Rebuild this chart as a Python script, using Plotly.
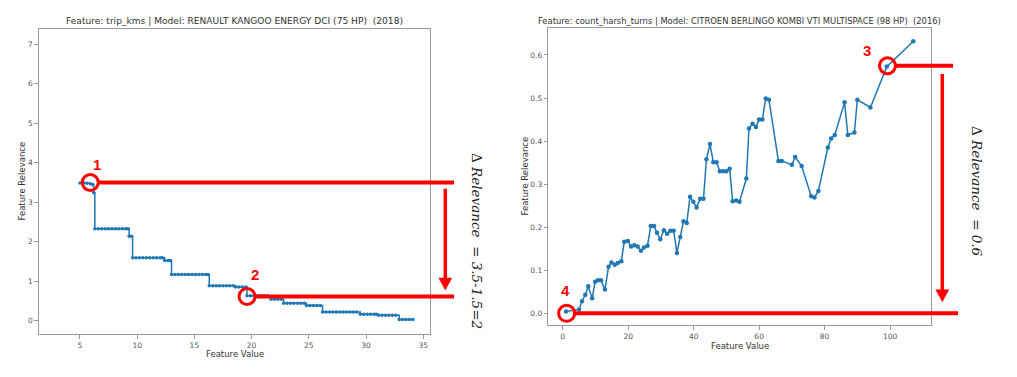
import plotly.graph_objects as go

# ---------------- data ----------------
trip_x = [5.0, 5.3, 5.6, 5.9, 6.1, 6.2,
          6.3, 6.6, 6.9, 7.2, 7.5, 7.8, 8.1, 8.4, 8.7, 9.0, 9.2,
          9.3, 9.5,
          9.6, 9.9, 10.2, 10.5, 10.8, 11.1, 11.4, 11.7, 12.0, 12.2,
          12.4, 12.7, 12.9,
          13.0, 13.3, 13.6, 13.9, 14.2, 14.5, 14.8, 15.1, 15.4, 15.7, 16.0, 16.2,
          16.3, 16.6, 16.9, 17.2, 17.5, 17.8, 18.1, 18.4,
          18.6, 18.9, 19.2, 19.5,
          19.6, 19.9, 20.2, 20.5, 20.8, 21.1, 21.4,
          21.7, 22.0, 22.3, 22.6,
          22.8, 23.1, 23.4, 23.7, 24.0, 24.3, 24.6,
          24.8, 25.1, 25.4, 25.7, 26.0,
          26.2, 26.5, 26.8, 27.1, 27.4, 27.7, 28.0, 28.3, 28.6, 28.9, 29.2,
          29.5, 29.8, 30.1, 30.4, 30.7, 30.9,
          31.1, 31.4, 31.7, 32.0, 32.3, 32.6,
          32.9, 33.2, 33.5, 33.8, 34.1]
trip_y = [3.49, 3.49, 3.48, 3.47, 3.45, 3.24,
          2.33, 2.33, 2.33, 2.33, 2.33, 2.33, 2.33, 2.33, 2.33, 2.33, 2.33,
          2.14, 2.14,
          1.59, 1.59, 1.59, 1.59, 1.59, 1.59, 1.59, 1.59, 1.59, 1.59,
          1.52, 1.52, 1.52,
          1.17, 1.17, 1.17, 1.17, 1.17, 1.17, 1.17, 1.17, 1.17, 1.17, 1.17, 1.17,
          0.88, 0.88, 0.88, 0.88, 0.88, 0.88, 0.88, 0.88,
          0.85, 0.85, 0.85, 0.85,
          0.63, 0.63, 0.63, 0.63, 0.63, 0.63, 0.63,
          0.54, 0.54, 0.54, 0.54,
          0.44, 0.44, 0.44, 0.44, 0.44, 0.44, 0.44,
          0.38, 0.38, 0.38, 0.38, 0.38,
          0.22, 0.22, 0.22, 0.22, 0.22, 0.22, 0.22, 0.22, 0.22, 0.22, 0.22,
          0.16, 0.16, 0.16, 0.16, 0.16, 0.16,
          0.135, 0.135, 0.135, 0.135, 0.135, 0.135,
          0.03, 0.03, 0.03, 0.03, 0.03]

turns_x = [1, 5, 5.9, 6.9, 7.8, 9, 9.9, 10.8, 11.7, 12.9, 14, 14.9, 15.9, 16.8, 17.9,
           18.8, 19.9, 20.9, 21.9, 22.9, 23.9, 24.8, 25.9, 26.9, 27.9, 28.8, 29.8,
           30.9, 31.9, 32.9, 33.9, 34.9, 35.9, 36.9, 37.9, 38.9, 39.9, 40.9, 42, 43,
           43.9, 45, 46, 47, 48, 49, 50, 51, 51.9, 53, 54, 56.1, 56.9, 58, 59, 60, 61,
           62, 63, 65.9, 66.9, 70, 71, 73, 75.9, 76.9, 78.1, 81, 82, 83.1, 86.1, 87.1,
           89.1, 90, 94, 99, 107.1]
turns_y = [0.004, 0.009, 0.028, 0.043, 0.063, 0.035, 0.073, 0.077, 0.077, 0.055, 0.108,
           0.118, 0.113, 0.117, 0.121, 0.166, 0.168, 0.155, 0.158, 0.155, 0.145, 0.153,
           0.157, 0.203, 0.203, 0.187, 0.172, 0.193, 0.185, 0.192, 0.192, 0.140, 0.177,
           0.214, 0.210, 0.271, 0.259, 0.246, 0.266, 0.266, 0.358, 0.393, 0.351, 0.351,
           0.330, 0.330, 0.330, 0.336, 0.260, 0.262, 0.259, 0.313, 0.429, 0.440, 0.433,
           0.450, 0.450, 0.499, 0.496, 0.354, 0.354, 0.345, 0.363, 0.342, 0.272, 0.269,
           0.284, 0.385, 0.406, 0.414, 0.490, 0.414, 0.420, 0.496, 0.478, 0.573, 0.632]

title_left = "Feature: trip_kms | Model: RENAULT KANGOO ENERGY DCI (75 HP)  (2018)"
title_right = "Feature: count_harsh_turns | Model: CITROEN BERLINGO KOMBI VTI MULTISPACE (98 HP)  (2016)"
x_label = "Feature Value"
y_label = "Feature Relevance"
left_marks = [("1", 5.9, 3.5), ("2", 19.6, 0.61)]
right_marks = [("3", 99.2, 0.575), ("4", 1.2, 0.0)]
left_delta = "Δ <i>Relevance</i>  <i>= 3.5-1.5=2</i>"
right_delta = "Δ <i>Relevance</i>  <i>= 0.6</i>"

# ---------------- layout geometry ----------------
# The page body has an 8px margin: work in window pixels and shift by OFF.
OFF = 8
W, H = 1001, 361


def fx(px):
    return (px - OFF) / W


def fy(py):
    return 1 - (py - OFF) / H


L_dom_x = [fx(39), fx(430)]
L_dom_y = [fy(334), fy(29)]
R_dom_x = [fx(548.3), fx(931)]
R_dom_y = [fy(325.3), fy(27.7)]
L_rx = [1.42, 35.59]
L_ry = [-0.34, 7.39]
R_rx = [-4.4, 112.5]
R_ry = [-0.0279, 0.6634]

BLUE = "#1f77b4"
RED = "#ff0000"
AX = "#9a9a9a"


def to_px(xv, yv, dom_x, dom_y, rx, ry):
    px_x = (dom_x[0] + (xv - rx[0]) / (rx[1] - rx[0]) * (dom_x[1] - dom_x[0])) * W + OFF
    px_y = (1 - (dom_y[0] + (yv - ry[0]) / (ry[1] - ry[0]) * (dom_y[1] - dom_y[0]))) * H + OFF
    return px_x, px_y


fig = go.Figure()
fig.add_trace(go.Scatter(x=trip_x, y=trip_y, mode="lines+markers",
                         line=dict(color=BLUE, width=1.5, shape="hv"),
                         marker=dict(color=BLUE, size=3.5),
                         xaxis="x", yaxis="y", showlegend=False))
fig.add_trace(go.Scatter(x=turns_x, y=turns_y, mode="lines+markers",
                         line=dict(color=BLUE, width=1.5),
                         marker=dict(color=BLUE, size=4.5),
                         xaxis="x2", yaxis="y2", showlegend=False))

axcommon = dict(showline=True, mirror=True, linecolor=AX, linewidth=1.2,
                ticks="outside", ticklen=3.5, tickcolor=AX, tickwidth=1,
                showgrid=False, zeroline=False,
                tickfont=dict(family="DejaVu Sans", size=7.5, color="#555555"))

fig.update_layout(
    width=W, height=H, margin=dict(l=0, r=0, t=0, b=0),
    paper_bgcolor="white", plot_bgcolor="white",
    xaxis=dict(domain=L_dom_x, range=L_rx, anchor="y", tickvals=[5, 10, 15, 20, 25, 30, 35], **axcommon),
    yaxis=dict(domain=L_dom_y, range=L_ry, anchor="x", tickvals=[0, 1, 2, 3, 4, 5, 6, 7], **axcommon),
    xaxis2=dict(domain=R_dom_x, range=R_rx, anchor="y2", tickvals=[0, 20, 40, 60, 80, 100], **axcommon),
    yaxis2=dict(domain=R_dom_y, range=R_ry, anchor="x2", tickvals=[0, 0.1, 0.2, 0.3, 0.4, 0.5, 0.6],
                tickformat=".1f", **axcommon),
)

ann = []
shapes = []

# titles and axis labels
for dom_x, title, tsize, lab_y in [(L_dom_x, title_left, 9.1, 354), (R_dom_x, title_right, 8.4, 345.5)]:
    cx = (dom_x[0] + dom_x[1]) / 2
    ann.append(dict(text=title, x=cx, y=fy(21), xref="paper", yref="paper", showarrow=False,
                    xanchor="center", yanchor="middle",
                    font=dict(family="DejaVu Sans", size=tsize, color="#333333")))
    ann.append(dict(text=x_label, x=cx, y=fy(lab_y), xref="paper", yref="paper", showarrow=False,
                    xanchor="center", yanchor="middle",
                    font=dict(family="DejaVu Sans", size=8.5, color="#333333")))
ann.append(dict(text=y_label, x=fx(21), y=(L_dom_y[0] + L_dom_y[1]) / 2, xref="paper", yref="paper",
                showarrow=False, textangle=-90, xanchor="center", yanchor="middle",
                font=dict(family="DejaVu Sans", size=8.5, color="#333333")))
ann.append(dict(text=y_label, x=fx(524), y=(R_dom_y[0] + R_dom_y[1]) / 2, xref="paper", yref="paper",
                showarrow=False, textangle=-90, xanchor="center", yanchor="middle",
                font=dict(family="DejaVu Sans", size=8.5, color="#333333")))


def mark(label, xv, yv, dom_x, dom_y, rx, ry, line_end_px, lab_dx, lab_dy):
    px, py = to_px(xv, yv, dom_x, dom_y, rx, ry)
    r = 8
    shapes.append(dict(type="circle", xref="paper", yref="paper",
                       x0=fx(px - r), x1=fx(px + r), y0=fy(py - r), y1=fy(py + r),
                       line=dict(color=RED, width=3)))
    shapes.append(dict(type="line", xref="paper", yref="paper",
                       x0=fx(px + r), x1=fx(line_end_px), y0=fy(py), y1=fy(py),
                       line=dict(color=RED, width=4)))
    ann.append(dict(text="<b>" + label + "</b>", x=fx(px + lab_dx), y=fy(py + lab_dy),
                    xref="paper", yref="paper", showarrow=False, xanchor="center", yanchor="middle",
                    font=dict(family="Liberation Sans", size=15, color=RED)))


def arrow(x_px, y_top, y_bot):
    head = 12
    half = 6.5
    shapes.append(dict(type="line", xref="paper", yref="paper",
                       x0=fx(x_px), x1=fx(x_px), y0=fy(y_top), y1=fy(y_bot - head + 1),
                       line=dict(color=RED, width=3.5)))
    path = "M {a},{b} L {c},{b} L {d},{e} Z".format(
        a=fx(x_px - half), b=fy(y_bot - head), c=fx(x_px + half), d=fx(x_px), e=fy(y_bot))
    shapes.append(dict(type="path", xref="paper", yref="paper", path=path,
                       fillcolor=RED, line=dict(color=RED, width=0.5)))


mark(left_marks[0][0], left_marks[0][1], left_marks[0][2], L_dom_x, L_dom_y, L_rx, L_ry, 454, 7, -18)
mark(left_marks[1][0], left_marks[1][1], left_marks[1][2], L_dom_x, L_dom_y, L_rx, L_ry, 454, 8, -22)
mark(right_marks[0][0], right_marks[0][1], right_marks[0][2], R_dom_x, R_dom_y, R_rx, R_ry, 953, -20, -15)
mark(right_marks[1][0], right_marks[1][1], right_marks[1][2], R_dom_x, R_dom_y, R_rx, R_ry, 958, -1, -23)

arrow(445.3, 188.7, 290)
arrow(942.3, 74, 301.7)

ann.append(dict(text=left_delta, x=fx(477), y=fy(241), xref="paper", yref="paper", showarrow=False,
                textangle=90, xanchor="center", yanchor="middle",
                font=dict(family="DejaVu Serif", size=13.5, color="#222222")))
ann.append(dict(text=right_delta, x=fx(977), y=fy(191), xref="paper", yref="paper", showarrow=False,
                textangle=90, xanchor="center", yanchor="middle",
                font=dict(family="DejaVu Serif", size=13.5, color="#222222")))

fig.update_layout(annotations=ann, shapes=shapes)
fig.write_html("out.html")
